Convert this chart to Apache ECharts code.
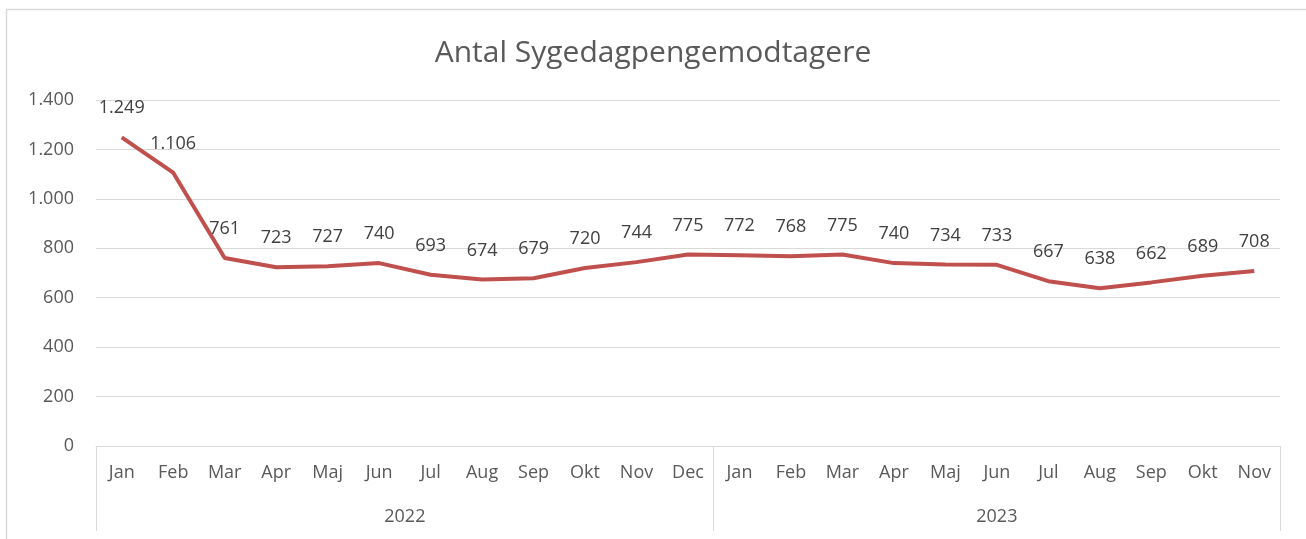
<!DOCTYPE html>
<html>
<head>
<meta charset="utf-8">
<script src="https://cdn.jsdelivr.net/npm/echarts@6/dist/echarts.min.js"></script>
<style>
  html, body { margin: 0; padding: 0; background: #fff; }
  #chart { width: 1306px; height: 539px; }
</style>
</head>
<body>
<div id="chart"></div>
<script>
// maaneder (kategorier)
var months = ["Jan", "Feb", "Mar", "Apr", "Maj", "Jun", "Jul", "Aug", "Sep", "Okt", "Nov", "Dec",
              "Jan", "Feb", "Mar", "Apr", "Maj", "Jun", "Jul", "Aug", "Sep", "Okt", "Nov"];
var years = ["2022", "2023"];
var yearStart = [0, 12];
var yearEnd = 23;
// antal modtagere
var values = [1249, 1106, 761, 723, 727, 740, 693, 674, 679, 720, 744, 775,
              772, 768, 775, 740, 734, 733, 667, 638, 662, 689, 708];

var font = "Open Sans";
var grey = "#595959";

function dk(v) {
  return String(v).replace(/\B(?=(\d{3})+(?!\d))/g, ".");
}

// year label positions (center of each group) and separators
var yearCenters = [];
for (var i = 0; i < years.length; i++) {
  var end = i + 1 < yearStart.length ? yearStart[i + 1] : yearEnd;
  yearCenters.push((yearStart[i] + end) / 2);
}
var separators = yearStart.concat([yearEnd]);

var myChart = echarts.init(document.getElementById("chart"));
var option = {
  animation: false,
  textStyle: { fontFamily: font },
  title: {
    text: "Antal Sygedagpengemodtagere",
    left: "center",
    top: 33,
    textStyle: { fontFamily: font, fontSize: 30, fontWeight: "normal", color: grey }
  },
  graphic: [{
    type: "rect",
    shape: { x: 6.5, y: 9.5, width: 1320, height: 560 },
    style: { fill: "none", stroke: "#d9d9d9", lineWidth: 1.5 },
    silent: true
  }],
  grid: { left: 96, right: 26, top: 100, bottom: 93 },
  xAxis: [
    {
      type: "category",
      data: months,
      boundaryGap: true,
      axisLine: { lineStyle: { color: "#d9d9d9", width: 1 } },
      axisTick: { show: false },
      axisLabel: { color: grey, fontSize: 18, margin: 18, interval: 0, fontFamily: font }
    },
    {
      type: "value",
      position: "bottom",
      min: 0,
      max: yearEnd,
      splitLine: { show: false },
      axisLine: { show: false },
      axisTick: {
        show: true,
        customValues: separators,
        length: 85,
        lineStyle: { color: "#d9d9d9", width: 1 }
      },
      axisLabel: {
        customValues: yearCenters,
        margin: 62,
        color: grey,
        fontSize: 18,
        fontFamily: font,
        formatter: function (v) {
          var idx = yearCenters.indexOf(v);
          return idx >= 0 ? years[idx] : "";
        }
      }
    }
  ],
  yAxis: {
    type: "value",
    min: 0,
    max: 1400,
    interval: 200,
    axisLine: { show: false },
    axisTick: { show: false },
    splitLine: { lineStyle: { color: "#d9d9d9", width: 1 } },
    axisLabel: {
      color: grey,
      fontSize: 18,
      margin: 22,
      fontFamily: font,
      formatter: function (v) { return dk(v); }
    }
  },
  series: [{
    type: "line",
    xAxisIndex: 0,
    data: values,
    symbol: "circle",
    symbolSize: 2,
    showSymbol: true,
    showAllSymbol: true,
    lineStyle: { color: "#c0504d", width: 4 },
    itemStyle: { color: "rgba(192,80,77,0)" },
    label: {
      show: true,
      position: "top",
      distance: 19,
      color: "#404040",
      fontSize: 18,
      fontFamily: font,
      formatter: function (p) { return dk(p.value); }
    },
    labelLayout: { hideOverlap: false }
  }]
};
window.onresize = myChart.resize;
myChart.setOption(option);
</script>
</body>
</html>
